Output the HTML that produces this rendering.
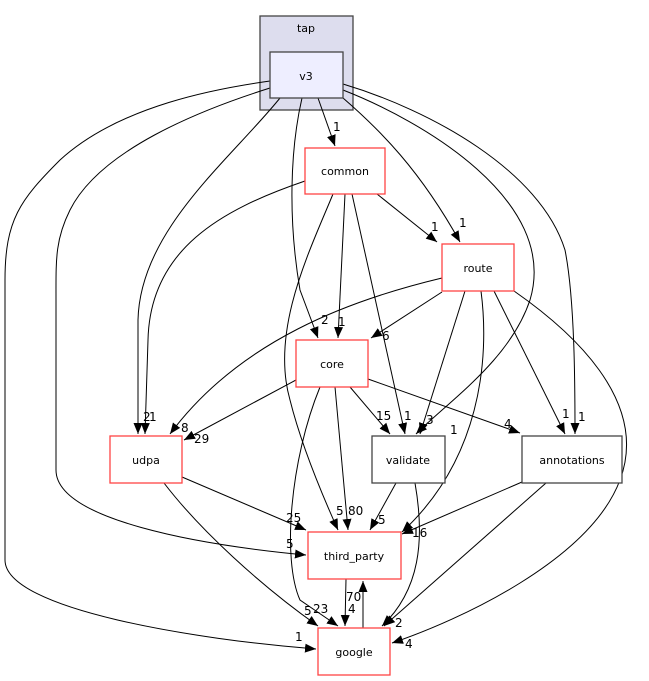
<!DOCTYPE html>
<html><head><meta charset="utf-8"><style>
html,body{margin:0;padding:0;background:#fff;}
svg{display:block;font-family:"DejaVu Sans","Liberation Sans",sans-serif;}
text{font-size:11px;fill:#000;}
.l text{font-size:12px;}
.e{fill:none;stroke:#000;stroke-width:1;marker-end:url(#a);}
</style></head><body>
<svg width="649" height="681" viewBox="0 0 649 681" xmlns="http://www.w3.org/2000/svg">
<defs><marker id="a" markerUnits="userSpaceOnUse" markerWidth="12" markerHeight="10" refX="11" refY="5" orient="auto"><path d="M0,0.5 L11,5 L0,9.5 z" fill="#000"/></marker></defs>
<rect x="260" y="16" width="93" height="94" fill="#ddddee" stroke="#444" stroke-width="1.3"/>
<text x="306" y="32" text-anchor="middle">tap</text>

<path class="e" d="M270,81 C220,88 120,105 60,160 C20,200 5,220 5,280 L5,560 C5,610 200,640 316,649"/>
<path class="e" d="M270,88 C200,110 100,150 70,210 C55,240 56,260 56,300 L56,470 C56,520 200,545 306,555"/>
<path class="e" d="M280,98 C230,160 140,230 138,320 L138,434"/>
<path class="e" d="M305,181 C220,210 150,250 148,340 L145,434"/>
<path class="e" d="M302,98 C290,150 288,220 300,290 L318,338"/>
<path class="e" d="M318,98 L335,146"/>
<path class="e" d="M343,98 C380,130 420,170 460,242"/>
<path class="e" d="M343,90 C420,120 560,200 530,300 C510,360 450,400 416,434"/>
<path class="e" d="M343,84 C430,110 540,170 565,250 C575,300 575,390 575,434"/>
<path class="e" d="M345,194 L338,338"/>
<path class="e" d="M377,194 L437,242"/>
<path class="e" d="M352,194 L405,434"/>
<path class="e" d="M333,194 C310,250 270,330 290,400 C300,440 320,490 338,530"/>
<path class="e" d="M442,292 L371,338"/>
<path class="e" d="M442,278 C350,300 240,340 170,434"/>
<path class="e" d="M465,291 L420,434"/>
<path class="e" d="M481,291 C490,360 480,460 402,532"/>
<path class="e" d="M494,291 L565,434"/>
<path class="e" d="M514,291 C570,330 650,400 620,480 C590,560 460,620 392,643"/>
<path class="e" d="M296,380 L184,440"/>
<path class="e" d="M350,387 L390,434"/>
<path class="e" d="M368,379 L520,433"/>
<path class="e" d="M335,387 L348,530"/>
<path class="e" d="M320,387 C290,460 282,560 300,600 L338,626"/>
<path class="e" d="M182,477 L306,530"/>
<path class="e" d="M164,483 C200,530 260,585 318,626"/>
<path class="e" d="M396,483 L370,530"/>
<path class="e" d="M415,483 C425,540 420,590 382,626"/>
<path class="e" d="M522,482 L402,534"/>
<path class="e" d="M546,483 L384,626"/>
<path class="e" d="M346,579 L345,626"/>
<path class="e" d="M363,628 L363,581"/>

<rect x="270" y="52" width="73" height="46" fill="#eeeeff" stroke="#444" stroke-width="1.3"/>
<text x="306" y="80" text-anchor="middle">v3</text>
<rect x="305" y="148" width="80" height="46" fill="#fff" stroke="#ff4444" stroke-width="1.3"/>
<text x="345" y="175" text-anchor="middle">common</text>
<rect x="442" y="244" width="72" height="47" fill="#fff" stroke="#ff4444" stroke-width="1.3"/>
<text x="478" y="272" text-anchor="middle">route</text>
<rect x="296" y="340" width="72" height="47" fill="#fff" stroke="#ff4444" stroke-width="1.3"/>
<text x="332" y="368" text-anchor="middle">core</text>
<rect x="110" y="436" width="72" height="47" fill="#fff" stroke="#ff4444" stroke-width="1.3"/>
<text x="146" y="464" text-anchor="middle">udpa</text>
<rect x="372" y="436" width="73" height="47" fill="#fff" stroke="#444" stroke-width="1.3"/>
<text x="408" y="464" text-anchor="middle">validate</text>
<rect x="522" y="436" width="100" height="47" fill="#fff" stroke="#444" stroke-width="1.3"/>
<text x="572" y="464" text-anchor="middle">annotations</text>
<rect x="308" y="532" width="93" height="47" fill="#fff" stroke="#ff4444" stroke-width="1.3"/>
<text x="354" y="560" text-anchor="middle">third_party</text>
<rect x="318" y="628" width="72" height="47" fill="#fff" stroke="#ff4444" stroke-width="1.3"/>
<text x="354" y="656" text-anchor="middle">google</text>

<g class="l">
<text x="333" y="131">1</text>
<text x="459" y="227">1</text>
<text x="431" y="231">1</text>
<text x="321" y="324">2</text>
<text x="338" y="326">1</text>
<text x="382" y="340">6</text>
<text x="143" y="421">2</text>
<text x="149" y="421">1</text>
<text x="181" y="432">8</text>
<text x="194" y="443">29</text>
<text x="376" y="420">15</text>
<text x="404" y="420">1</text>
<text x="426" y="424">3</text>
<text x="450" y="434">1</text>
<text x="504" y="428">4</text>
<text x="562" y="418">1</text>
<text x="578" y="421">1</text>
<text x="286" y="522">25</text>
<text x="336" y="515">5</text>
<text x="348" y="515">80</text>
<text x="378" y="524">5</text>
<text x="412" y="537">16</text>
<text x="286" y="548">5</text>
<text x="346" y="601">70</text>
<text x="348" y="613">4</text>
<text x="304" y="615">5</text>
<text x="313" y="613">23</text>
<text x="395" y="627">2</text>
<text x="295" y="641">1</text>
<text x="405" y="648">4</text>
</g>
</svg>
</body></html>
